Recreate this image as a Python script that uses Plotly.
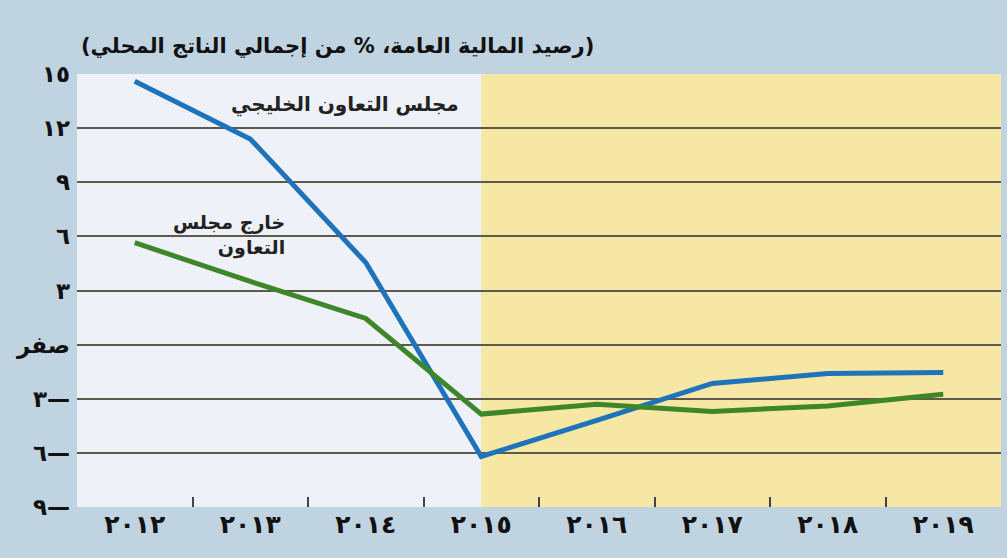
import plotly.graph_objects as go

years = ["٢٠١٢", "٢٠١٣", "٢٠١٤", "٢٠١٥", "٢٠١٦", "٢٠١٧", "٢٠١٨", "٢٠١٩"]
gcc = [14.6, 11.4, 4.55, -6.2, -4.2, -2.15, -1.6, -1.55]
non_gcc = [5.65, 3.5, 1.45, -3.85, -3.3, -3.7, -3.4, -2.75]

ytick_vals = [15, 12, 9, 6, 3, 0, -3, -6, -9]
ytick_text = ["١٥", "١٢", "٩", "٦", "٣", "صفر", "٣—", "٦—", "٩—"]

title_text = "(رصيد المالية العامة، % من إجمالي الناتج المحلي)"
gcc_label = "مجلس التعاون الخليجي"
non_gcc_label = "خارج مجلس<br>التعاون"
forecast_start = "٢٠١٥"

FONT = "DejaVu Sans"
BG = "#bfd3e0"
LEFT_BG = "#eef1f8"
YELLOW = "#f6e7a4"
GRID = "#5e5a4a"
BLUE = "#1f73bb"
GREEN = "#3d872a"

fig = go.Figure()
fig.add_trace(go.Scatter(x=years, y=gcc, mode="lines",
                         line=dict(color=BLUE, width=5), name=gcc_label))
fig.add_trace(go.Scatter(x=years, y=non_gcc, mode="lines",
                         line=dict(color=GREEN, width=5), name="non"))

fig.add_shape(type="rect", xref="x", yref="paper",
              x0=years.index(forecast_start), x1=len(years) - 0.5, y0=0, y1=1,
              fillcolor=YELLOW, line_width=0, layer="below")

fig.add_annotation(x=years[1], y=gcc[1], xref="x", yref="y",
                   text="<b>" + gcc_label + "</b>", showarrow=False,
                   xanchor="right", yanchor="middle", xshift=211, yshift=34,
                   font=dict(family=FONT, size=20, color="#222222"))
fig.add_annotation(x=years[0], y=non_gcc[0], xref="x", yref="y",
                   text="<b>" + non_gcc_label + "</b>", showarrow=False,
                   align="right", xanchor="right", yanchor="middle",
                   xshift=152, yshift=8,
                   font=dict(family=FONT, size=19, color="#222222"))
fig.add_annotation(x=0.0, y=1.0, xref="paper", yref="paper",
                   text="<b>" + title_text + "</b>", showarrow=False,
                   xanchor="left", yanchor="bottom", yshift=14, xshift=2,
                   font=dict(family=FONT, size=21, color="#111111"))

fig.update_layout(
    width=1007, height=558,
    paper_bgcolor=BG, plot_bgcolor=LEFT_BG,
    margin=dict(l=77, r=6, t=74, b=51),
    showlegend=False,
    font=dict(family=FONT, color="#111111"),
)
fig.update_xaxes(
    type="category", range=[-0.5, len(years) - 0.5],
    showgrid=False, zeroline=False, showline=False,
    ticks="inside", tickson="boundaries", ticklen=10, tickwidth=1.5, tickcolor="#444444",
    tickfont=dict(family=FONT, size=25, color="#111111", weight="bold"),
)
fig.update_yaxes(
    range=[-9, 15], tickmode="array", tickvals=ytick_vals, ticktext=ytick_text,
    showgrid=True, gridcolor=GRID, gridwidth=2, zeroline=False, showline=False,
    ticks="", ticklabelstandoff=6,
    tickfont=dict(family=FONT, size=23, color="#111111", weight="bold"),
)

fig.write_html("out.html", config={"displayModeBar": False},
               post_script="document.body.style.margin='0px';")
